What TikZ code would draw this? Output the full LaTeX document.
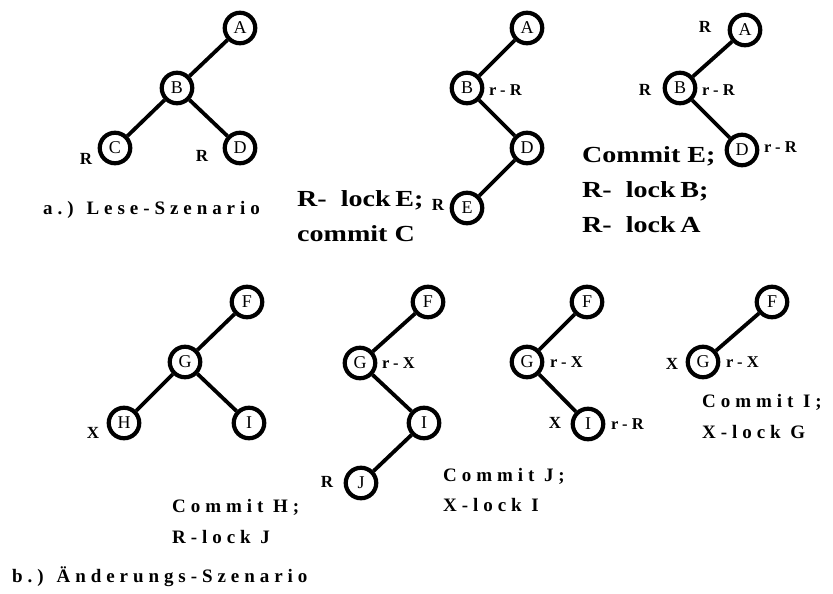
\documentclass[tikz,border=0pt]{standalone}
\usepackage{fontspec}
\usepackage{graphicx}
\setmainfont{Liberation Serif}
\newfontfamily\spacedfont[LetterSpace=26]{Liberation Serif}
\newfontfamily\plainfont{Liberation Serif}
\newcommand{\wideline}[1]{\scalebox{1.22}[1]{#1}}
\tikzset{
  tnode/.style={circle, draw, line width=4.2pt, minimum size=30.5pt, inner sep=0pt,
    font=\plainfont\fontsize{18}{18}\selectfont},
  tedge/.style={line width=3.8pt},
  mark lbl/.style={inner sep=0pt, font=\plainfont\bfseries\fontsize{17}{17}\selectfont},
  rlbl/.style={inner sep=0pt, anchor=west, font=\spacedfont\bfseries\fontsize{16.5}{16.5}\selectfont},
  heavytext/.style={inner sep=0pt, anchor=west, align=left,
    font=\plainfont\bfseries\fontsize{23}{35}\selectfont},
  spacedtext/.style={inner sep=0pt, anchor=west, align=left,
    font=\spacedfont\bfseries\fontsize{19}{31}\selectfont},
}
\begin{document}
\begin{tikzpicture}[x=1pt,y=-1pt]
\useasboundingbox (0,0) rectangle (833,594);

% ---------- a.) read scenario ----------
% first tree
\node[tnode] (a1A) at (240,28) {A};
\node[tnode] (a1B) at (177,88) {B};
\node[tnode] (a1C) at (115,148) {C};
\node[tnode] (a1D) at (240,148) {D};
\draw[tedge] (a1A) -- (a1B);
\draw[tedge] (a1B) -- (a1C);
\draw[tedge] (a1B) -- (a1D);
\node[mark lbl] (a1Cl) at (86,159) {R};
\node[mark lbl] (a1Dl) at (202,156) {R};
\node[spacedtext, font=\spacedfont\bfseries\fontsize{19}{19}\selectfont] (a1cap) at (43,210) {a.) Lese-Szenario};

% second tree
\node[tnode] (a2A) at (527,28) {A};
\node[tnode] (a2B) at (467,88) {B};
\node[tnode] (a2D) at (527,148) {D};
\node[tnode] (a2E) at (467,208) {E};
\draw[tedge] (a2A) -- (a2B);
\draw[tedge] (a2B) -- (a2D);
\draw[tedge] (a2D) -- (a2E);
\node[rlbl] (a2Bl) at (489,90) {r-R};
\node[mark lbl] (a2El) at (438,205) {R};
\node[heavytext] (a2txt) at (297,216) {\wideline{R-\ \ lock\,E;}\\\wideline{commit C}};

% third tree
\node[tnode] (a3A) at (745,30) {A};
\node[tnode] (a3B) at (680,88) {B};
\node[tnode] (a3D) at (742,150) {D};
\draw[tedge] (a3A) -- (a3B);
\draw[tedge] (a3B) -- (a3D);
\node[mark lbl] (a3Al) at (705,27) {R};
\node[mark lbl] (a3Bl) at (645,90) {R};
\node[rlbl] (a3Br) at (702,90) {r-R};
\node[rlbl] (a3Dr) at (764,147) {r-R};
\node[heavytext] (a3txt) at (582,190) {\wideline{Commit E;}\\\wideline{R-\ \ lock\,B;}\\\wideline{R-\ \ lock\,A}};

% ---------- b.) update scenario ----------
% first tree
\node[tnode] (b1F) at (247,302) {F};
\node[tnode] (b1G) at (185,362) {G};
\node[tnode] (b1H) at (124,423) {H};
\node[tnode] (b1I) at (249,423) {I};
\draw[tedge] (b1F) -- (b1G);
\draw[tedge] (b1G) -- (b1H);
\draw[tedge] (b1G) -- (b1I);
\node[mark lbl] (b1Hl) at (93,433) {X};

% second tree
\node[tnode] (b2F) at (428,302) {F};
\node[tnode] (b2G) at (360,363) {G};
\node[tnode] (b2I) at (424,423) {I};
\node[tnode] (b2J) at (361,483) {J};
\draw[tedge] (b2F) -- (b2G);
\draw[tedge] (b2G) -- (b2I);
\draw[tedge] (b2I) -- (b2J);
\node[rlbl] (b2Gr) at (382,363) {r-X};
\node[mark lbl] (b2Jl) at (327,482) {R};
\node[spacedtext] (b2txt) at (172,521) {Commit H;\\R-lock J};

% third tree
\node[tnode] (b3F) at (587,302) {F};
\node[tnode] (b3G) at (527,362) {G};
\node[tnode] (b3I) at (588,424) {I};
\draw[tedge] (b3F) -- (b3G);
\draw[tedge] (b3G) -- (b3I);
\node[rlbl] (b3Gr) at (550,362) {r-X};
\node[mark lbl] (b3Il) at (555,423) {X};
\node[rlbl] (b3Ir) at (611,424) {r-R};
\node[spacedtext, font=\spacedfont\bfseries\fontsize{19}{30}\selectfont] (b3txt) at (443,490) {Commit J;\\X-lock I};

% fourth tree
\node[tnode] (b4F) at (772,302) {F};
\node[tnode] (b4G) at (703,362) {G};
\draw[tedge] (b4F) -- (b4G);
\node[mark lbl] (b4Gl) at (672,364) {X};
\node[rlbl] (b4Gr) at (726,362) {r-X};
\node[spacedtext] (b4txt) at (702,416) {Commit I;\\X-lock G};

\node[spacedtext, font=\spacedfont\bfseries\fontsize{19}{19}\selectfont] (bcap) at (12,577) {b.) Änderungs-Szenario};
\end{tikzpicture}
\end{document}
